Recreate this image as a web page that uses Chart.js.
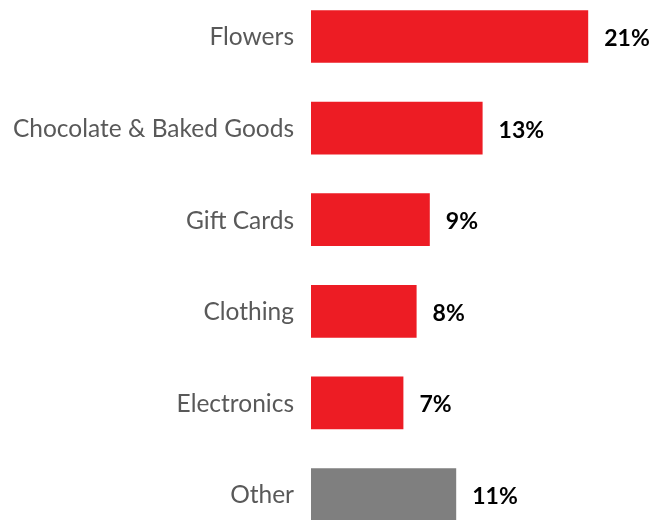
<!DOCTYPE html>
<html>
<head>
<meta charset="utf-8">
<script src="https://cdn.jsdelivr.net/npm/chart.js@4"></script>
<style>
  html, body { margin: 0; padding: 0; background: #ffffff; overflow: hidden; }
  #chart { display: block; margin-top: -41px; }
</style>
</head>
<body>
<canvas id="chart" width="652" height="613"></canvas>
<script>
// Gift purchase categories and their shares (percent)
const categories = ['Flowers', 'Chocolate & Baked Goods', 'Gift Cards', 'Clothing', 'Electronics', 'Other'];
const shares = [21, 13, 9, 8, 7, 11];
const barColors = ['#ED1C24', '#ED1C24', '#ED1C24', '#ED1C24', '#ED1C24', '#7F7F7F'];

const FONT = 'Lato, "Open Sans", sans-serif';

// Writes each value as a bold percentage just past the end of its bar
const valueLabels = {
  id: 'valueLabels',
  afterDatasetsDraw(chart) {
    const ctx = chart.ctx;
    const meta = chart.getDatasetMeta(0);
    ctx.save();
    ctx.font = 'bold 23px ' + FONT;
    ctx.fillStyle = '#000000';
    ctx.textAlign = 'left';
    ctx.textBaseline = 'middle';
    meta.data.forEach((bar, i) => {
      ctx.fillText(shares[i] + '%', bar.x + 16, bar.y + 2);
    });
    ctx.restore();
  }
};

new Chart(document.getElementById('chart'), {
  type: 'bar',
  data: {
    labels: categories,
    datasets: [{
      data: shares,
      backgroundColor: barColors,
      borderWidth: 0,
      barPercentage: 0.575,
      categoryPercentage: 1.0
    }]
  },
  options: {
    indexAxis: 'y',
    responsive: false,
    animation: false,
    layout: { padding: { top: 0, right: 11, bottom: 0, left: 0 } },
    plugins: {
      legend: { display: false },
      tooltip: { enabled: false }
    },
    scales: {
      x: {
        display: false,
        min: 0,
        max: 25
      },
      y: {
        grid: { display: false, drawTicks: false },
        border: { display: false },
        afterFit(scale) { scale.width = 311; },
        ticks: {
          color: '#595959',
          padding: 17,
          labelOffset: 1,
          font: { family: FONT, size: 24.5 }
        }
      }
    }
  },
  plugins: [valueLabels]
});
</script>
</body>
</html>
